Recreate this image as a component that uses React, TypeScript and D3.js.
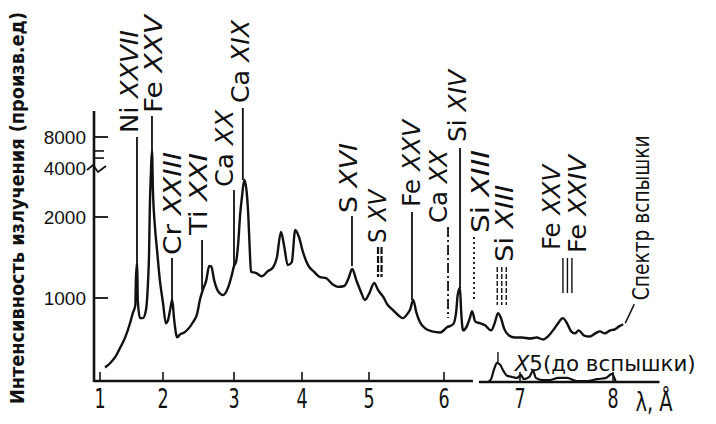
import React from "react";
import * as d3 from "d3";

// ---------------- data ----------------
const spectrumWavelength = [
  1.08, 1.16, 1.24, 1.32, 1.4, 1.48, 1.52, 1.56, 1.57, 1.59,
  1.6, 1.635, 1.68, 1.73, 1.76, 1.78, 1.79, 1.81, 1.825, 1.84,
  1.87, 1.905, 1.95, 2.0, 2.04, 2.07, 2.1, 2.13, 2.155, 2.2,
  2.24, 2.3, 2.35, 2.42, 2.48, 2.52, 2.56, 2.61, 2.65, 2.68,
  2.72, 2.775, 2.845, 2.915, 2.97, 3.0, 3.03, 3.06, 3.09, 3.12,
  3.15, 3.18, 3.21, 3.235, 3.25, 3.32, 3.41, 3.5, 3.57, 3.63,
  3.69, 3.735, 3.79, 3.85, 3.9, 3.955, 4.015, 4.09, 4.18, 4.27,
  4.36, 4.45, 4.54, 4.63, 4.69, 4.75, 4.81, 4.88, 4.94, 5.0,
  5.07, 5.12, 5.19, 5.25, 5.32, 5.39, 5.45, 5.51, 5.55, 5.59,
  5.63, 5.68, 5.75, 5.84, 5.95, 6.04, 6.12, 6.16, 6.18, 6.21,
  6.225, 6.25, 6.3, 6.34, 6.37, 6.41, 6.47, 6.54, 6.62, 6.67,
  6.71, 6.75, 6.79, 6.855, 6.93, 7.02, 7.11, 7.18, 7.25, 7.3,
  7.355, 7.41, 7.46, 7.505, 7.55, 7.59, 7.63, 7.69, 7.75, 7.81,
  7.86, 7.91, 7.97, 8.02, 8.065, 8.11,
];
const spectrumIntensity = [
  560, 580, 610, 660, 720, 815, 880, 940, 1170, 1360,
  980, 845, 845, 905, 1120, 1510, 2210, 3890, 6000, 2930,
  1870, 1510, 1165, 960, 810, 830, 905, 985, 845, 720,
  738, 750, 770, 815, 875, 985, 1070, 1165, 1315, 1310,
  1165, 1060, 1025, 1090, 1220, 1315, 1360, 1575, 2060, 2730,
  3380, 3010, 2060, 1445, 1250, 1240, 1205, 1260, 1295, 1410,
  1760, 1575, 1325, 1360, 1790, 1685, 1480, 1325, 1250, 1195,
  1185, 1127, 1100, 1108, 1176, 1282, 1166, 1053, 983, 1035,
  1137, 1071, 1009, 943, 904, 866, 845, 874, 911, 983,
  889, 816, 776, 757, 750, 783, 803, 889, 1026, 1089,
  904, 763, 789, 845, 896, 823, 810, 796, 763, 816,
  881, 845, 776, 731, 719, 719, 713, 719, 707, 725,
  763, 810, 845, 810, 757, 744, 763, 731, 725, 744,
  757, 744, 763, 770, 789, 803,
];
// pre-flare spectrum, drawn x5
const preFlareWavelength = [
  6.58, 6.62, 6.66, 6.7, 6.74, 6.78, 6.83, 6.9, 6.96, 7.01, 7.04, 7.1,
  7.14, 7.17, 7.24, 7.32, 7.41, 7.505, 7.61, 7.72, 7.83, 7.925, 7.99, 8.03,
];
const preFlareIntensity = [
  496, 508, 553, 582, 572, 545, 522, 517, 513, 526, 508, 517,
  545, 513, 504, 504, 513, 513, 500, 500, 508, 513, 531, 496,
];

const xTickValues = [1, 2, 3, 4, 5, 6, 7, 8];
const xTickLabels = ["1", "2", "3", "4", "5", "6", "7", "8"];
const yTickValues = [1000, 2000, 4000, 8000];
const yTickLabels = ["1000", "2000", "4000", "8000"];

const lineElements = ["Ni", "Fe", "Cr", "Ti", "Ca", "Ca", "S", "S", "Fe", "Ca", "Si", "Si", "Si", "Fe", "Fe"];
const lineIons = ["XXVII", "XXV", "XXIII", "XXI", "XX", "XIX", "XVI", "XV", "XXV", "XX", "XIV", "XIII", "XIII", "XXV", "XXIV"];
const lineWavelengths = [1.587, 1.825, 2.127, 2.55, 3.0, 3.13, 4.746, 5.147, 5.573, 6.053, 6.211, 6.395, 6.76, 7.51, 7.51];

const yAxisTitle = "Интенсивность излучения (произв.ед)";
const xAxisTitle = "λ, Å";
const flareLabel = "Спектр вспышки";
const preFlareFactor = "X5";
const preFlareNote = "(до вспышки)";

// ---------------- layout ----------------
const W = 716;
const H = 424;
const axisLeft = 94;
const axisBottom = 381;
const axisTop = 111;
const axisGap = [6.38, 6.46];
const axisEnd = 8.5;

const INK = "#111";
const NARROW = "'Liberation Sans Narrow', 'DejaVu Sans Condensed', 'Liberation Sans', sans-serif";

const xScale = d3.scaleLinear().domain(xTickValues).range([100, 163, 234, 302, 369, 444, 520, 613]);
const yScale = d3.scaleLog().domain([500, 1000, 2000, 4000, 8000]).range([axisBottom, 298, 217, 168, 137]);

type Layout = { dx: number; bottom: number; len: number; lineTop: number; lineBottom: number; kind: string };
const labelLayout: Layout[] = [
  { dx: -8, bottom: 133, len: 103, lineTop: 137, lineBottom: 262, kind: "solid" },
  { dx: 1, bottom: 113, len: 98, lineTop: 116, lineBottom: 150, kind: "solid" },
  { dx: 0, bottom: 255, len: 103, lineTop: 258, lineBottom: 300, kind: "solid" },
  { dx: -4, bottom: 235, len: 82, lineTop: 240, lineBottom: 290, kind: "solid" },
  { dx: -10, bottom: 187, len: 77, lineTop: 190, lineBottom: 266, kind: "solid" },
  { dx: -2, bottom: 103, len: 83, lineTop: 108, lineBottom: 180, kind: "solid" },
  { dx: -4, bottom: 213, len: 70, lineTop: 216, lineBottom: 266, kind: "solid" },
  { dx: -3, bottom: 243, len: 53, lineTop: 247, lineBottom: 277, kind: "double" },
  { dx: -1, bottom: 207, len: 87, lineTop: 212, lineBottom: 300, kind: "solid" },
  { dx: -10, bottom: 223, len: 73, lineTop: 227, lineBottom: 318, kind: "dashdot" },
  { dx: -3, bottom: 142, len: 72, lineTop: 148, lineBottom: 288, kind: "solid" },
  { dx: 6, bottom: 233, len: 83, lineTop: 237, lineBottom: 300, kind: "dotted" },
  { dx: 3, bottom: 262, len: 77, lineTop: 267, lineBottom: 305, kind: "tripleDashed" },
  { dx: -16, bottom: 250, len: 85, lineTop: 258, lineBottom: 293, kind: "triple" },
  { dx: 10, bottom: 253, len: 98, lineTop: 0, lineBottom: 0, kind: "none" },
];

function IdLines({ x, l }: { x: number; l: Layout }) {
  const common = { stroke: INK, strokeWidth: 1.8, fill: "none" } as const;
  if (l.kind === "none") return null;
  if (l.kind === "double") {
    return (
      <g>
        {[-2, 1.5].map((o) => (
          <line key={o} x1={x + o} x2={x + o} y1={l.lineTop} y2={l.lineBottom} {...common} strokeWidth={2.2} strokeDasharray="7 2" />
        ))}
      </g>
    );
  }
  if (l.kind === "tripleDashed" || l.kind === "triple") {
    return (
      <g>
        {[-4.5, 0, 4.5].map((o) => (
          <line key={o} x1={x + o} x2={x + o} y1={l.lineTop} y2={l.lineBottom} {...common} strokeWidth={1.4}
            strokeDasharray={l.kind === "tripleDashed" ? "5 2" : undefined} />
        ))}
      </g>
    );
  }
  const dash = l.kind === "dashdot" ? "10 3 2 3" : l.kind === "dotted" ? "2 3" : undefined;
  return <line x1={x} x2={x} y1={l.lineTop} y2={l.lineBottom} {...common} strokeDasharray={dash} />;
}

export default function App() {
  const spectrumPath = d3
    .line<number>()
    .x((_, i) => xScale(spectrumWavelength[i]))
    .y((d) => yScale(d))
    .curve(d3.curveMonotoneX)(spectrumIntensity) as string;

  const preFlarePath = d3
    .line<number>()
    .x((_, i) => xScale(preFlareWavelength[i]))
    .y((d) => yScale(d))
    .curve(d3.curveMonotoneX)(preFlareIntensity) as string;

  const lastX = xScale(spectrumWavelength[spectrumWavelength.length - 1]);
  const lastY = yScale(spectrumIntensity[spectrumIntensity.length - 1]);

  return (
    <svg width={W} height={H} viewBox={`0 0 ${W} ${H}`} style={{ position: "absolute", left: 0, top: 0, background: "#fff" }}>
      <rect width={W} height={H} fill="#fff" />

      {/* y axis title */}
      <text transform={`translate(17, 404) rotate(-90)`} dy="0.36em" fontFamily={NARROW} fontWeight="bold"
        fontSize={19} fill={INK} textLength={392} lengthAdjust="spacingAndGlyphs">
        {yAxisTitle}
      </text>

      {/* axes */}
      <line x1={axisLeft} x2={axisLeft} y1={axisTop} y2={axisBottom + 1} stroke={INK} strokeWidth={2.6} />
      <line x1={axisLeft} x2={xScale(axisGap[0])} y1={axisBottom} y2={axisBottom} stroke={INK} strokeWidth={2.6} />
      <line x1={xScale(axisGap[1])} x2={xScale(axisEnd)} y1={axisBottom + 1} y2={axisBottom + 1} stroke={INK} strokeWidth={2.6} />

      {/* x ticks */}
      {xTickValues.map((v, i) => (
        <g key={v}>
          <line x1={xScale(v)} x2={xScale(v)} y1={axisBottom - 9} y2={axisBottom} stroke={INK} strokeWidth={1.6} />
          <text transform={`translate(${xScale(v)}, 408) scale(0.72, 1)`} textAnchor="middle" fontFamily={NARROW}
            fontSize={27} fill={INK}>
            {xTickLabels[i]}
          </text>
        </g>
      ))}
      <text transform={`translate(${xScale(axisEnd) - 24}, 411) scale(0.8, 1)`} fontFamily={NARROW} fontSize={27} fill={INK}>
        {xAxisTitle}
      </text>

      {/* y ticks */}
      {yTickValues.map((v, i) => {
        const y = yScale(v);
        return (
          <g key={v}>
            {v === 4000 ? (
              <polyline points={`${axisLeft - 7},${y + 2} ${axisLeft - 1},${y - 3} ${axisLeft + 4},${y + 4} ${axisLeft + 12},${y - 2}`}
                fill="none" stroke={INK} strokeWidth={1.8} />
            ) : (
              <line x1={axisLeft} x2={axisLeft + 14} y1={y} y2={y} stroke={INK} strokeWidth={1.8} />
            )}
            <text x={axisLeft - 8} y={y} dy="0.36em" textAnchor="end" fontFamily="'Liberation Sans', sans-serif"
              fontSize={19} fill={INK}>
              {yTickLabels[i]}
            </text>
          </g>
        );
      })}
      {/* axis break marks */}
      {[0.45, 0.68].map((t) => {
        const y = yScale(8000) + t * (yScale(4000) - yScale(8000));
        return <line key={t} x1={axisLeft + 1} x2={axisLeft + 10} y1={y} y2={y} stroke={INK} strokeWidth={1.6} />;
      })}

      {/* spectra */}
      <path d={spectrumPath} fill="none" stroke={INK} strokeWidth={2.4} strokeLinejoin="round" />
      <path d={preFlarePath} fill="none" stroke={INK} strokeWidth={2.2} strokeLinejoin="round" />
      <line x1={xScale(6.71)} x2={xScale(6.71)} y1={352} y2={362} stroke={INK} strokeWidth={1.4} />

      {/* line identifications */}
      {lineWavelengths.map((w, i) => {
        const l = labelLayout[i];
        const x = xScale(w);
        return (
          <g key={i}>
            <IdLines x={x} l={l} />
            <text transform={`translate(${x + l.dx}, ${l.bottom}) rotate(-90)`} dy="0.36em" fontFamily={NARROW}
              fontSize={24} fill={INK} textLength={l.len} lengthAdjust="spacingAndGlyphs">
              <tspan>{lineElements[i]}</tspan>
              <tspan fontStyle="italic">{" " + lineIons[i]}</tspan>
            </text>
          </g>
        );
      })}

      {/* flare label */}
      <line x1={lastX + 2} x2={lastX + 11} y1={lastY - 1} y2={lastY - 20} stroke={INK} strokeWidth={1.6} />
      <text transform={`translate(${lastX + 17}, ${lastY - 24}) rotate(-90)`} dy="0.36em" fontFamily={NARROW}
        fontSize={23} fill={INK} textLength={165} lengthAdjust="spacingAndGlyphs">
        {flareLabel}
      </text>

      {/* pre-flare label */}
      <text x={xScale(6.93)} y={371} fontFamily={NARROW} fontSize={22} fill={INK} textLength={181} lengthAdjust="spacingAndGlyphs">
        <tspan fontStyle="italic">{preFlareFactor[0]}</tspan>
        <tspan>{preFlareFactor.slice(1)}</tspan>
        <tspan>{preFlareNote}</tspan>
      </text>
    </svg>
  );
}
